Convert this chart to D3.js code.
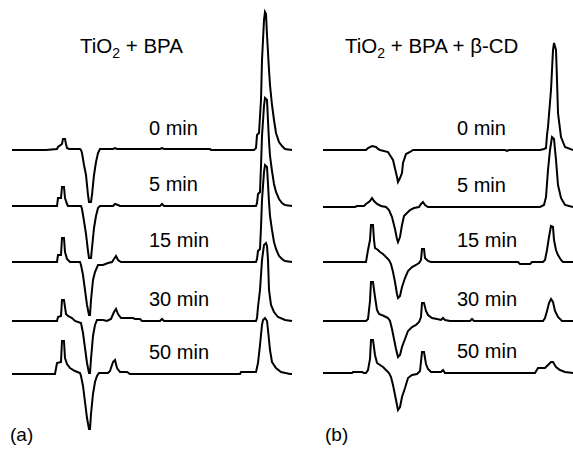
<!DOCTYPE html>
<html>
<head>
<meta charset="utf-8">
<script src="https://cdn.jsdelivr.net/npm/d3@7"></script>
<style>
  html, body { margin: 0; padding: 0; background: #fff; }
  svg { display: block; font-family: "Liberation Sans", Arial, Helvetica, sans-serif; }
</style>
</head>
<body>
<svg id="chart" width="573" height="450"></svg>
<script>
// Irradiation times of the stacked chromatograms (top to bottom)
const times = ["0 min", "5 min", "15 min", "30 min", "50 min"];

// Panel (a): TiO2 + BPA — [retention time, detector response]
const a0 = [[0,0],[3.4,0],[4.5,1],[4.6,3],[5.0,6],[5.1,11],[5.3,11],[5.4,6],[5.5,2],[5.7,1],[6.8,1],[6.9,0],[7.0,-3],[7.2,-15],[7.4,-25],[7.6,-45],[7.7,-52],[7.9,-52],[8.0,-45],[8.2,-25],[8.4,-12],[8.6,-3],[8.8,1],[10.1,1],[10.3,2],[10.5,1],[14.8,1],[15.0,2],[15.2,1],[19.8,1],[19.9,0],[24.2,0],[24.4,2],[24.5,15],[24.7,17],[24.9,50],[25.0,90],[25.2,130],[25.3,138],[25.4,136],[25.5,115],[25.7,80],[25.8,65],[26.0,45],[26.2,30],[26.4,17],[26.7,8],[27.0,4],[27.3,1],[28.0,0]];
const a5 = [[0,0],[4.5,0],[4.6,8],[4.9,8],[5.0,19],[5.2,19],[5.3,8],[5.5,2],[5.6,0],[6.9,0],[7.0,-3],[7.2,-15],[7.4,-28],[7.6,-45],[7.7,-52],[7.9,-52],[8.0,-42],[8.2,-22],[8.4,-10],[8.6,-2],[8.8,0],[10.1,0],[10.3,2],[10.6,1],[10.8,0],[14.8,0],[15.0,2],[15.2,0],[24.4,0],[24.5,3],[24.6,12],[24.8,14],[24.9,40],[25.0,70],[25.2,100],[25.3,108],[25.5,106],[25.6,85],[25.7,65],[25.8,50],[26.0,35],[26.2,22],[26.4,14],[26.7,7],[27.0,3],[27.3,1],[28.0,0]];
const a15 = [[0,0],[4.5,0],[4.6,7],[4.9,7],[5.0,24],[5.2,24],[5.3,10],[5.5,3],[5.8,0],[6.8,0],[6.9,-3],[7.1,-13],[7.3,-28],[7.5,-43],[7.7,-53],[7.8,-53],[7.9,-38],[8.1,-18],[8.3,-10],[8.6,-3],[9.1,-3],[9.6,-1],[10.0,0],[10.2,3],[10.4,6],[10.6,2],[10.9,0],[24.4,0],[24.5,3],[24.6,11],[24.8,13],[24.9,35],[25.0,62],[25.2,90],[25.3,97],[25.5,95],[25.6,78],[25.7,60],[25.8,46],[26.0,32],[26.2,20],[26.4,13],[26.7,6],[27.0,3],[27.3,1],[28.0,0]];
const a30 = [[0,0],[4.5,0],[4.6,4],[4.9,5],[5.0,21],[5.2,21],[5.4,7],[5.6,5],[6.0,3],[6.3,0],[6.9,-2],[7.1,-12],[7.3,-27],[7.5,-42],[7.7,-52],[7.8,-52],[7.9,-38],[8.1,-15],[8.3,-4],[8.5,1],[9.1,1],[9.5,0],[9.9,2],[10.2,9],[10.4,12],[10.6,7],[10.9,3],[12.1,3],[12.3,2],[12.8,2],[13.0,0],[14.8,0],[15.0,2],[15.2,0],[24.4,0],[24.5,3],[24.6,14],[24.8,31],[25.0,61],[25.2,76],[25.4,78],[25.5,75],[25.6,61],[25.7,31],[25.9,16],[26.2,9],[26.6,4],[27.3,1],[28.0,0]];
const a50 = [[0,0],[4.3,0],[4.5,11],[4.9,12],[5.0,33],[5.2,33],[5.3,16],[5.5,10],[5.8,6],[6.3,3],[6.8,1],[6.9,-2],[7.1,-12],[7.3,-28],[7.5,-44],[7.7,-55],[7.8,-55],[7.9,-40],[8.1,-20],[8.3,-8],[8.5,-2],[8.7,1],[9.6,1],[9.8,3],[10.1,12],[10.3,14],[10.5,6],[10.8,2],[11.5,2],[11.8,0],[22.8,0],[22.9,2],[24.4,2],[24.6,11],[24.8,29],[25.0,49],[25.1,54],[25.3,56],[25.5,53],[25.6,44],[25.8,24],[26.0,12],[26.4,6],[26.9,2],[27.8,0],[28.0,0]];

// Panel (b): TiO2 + BPA + β-CD — [retention time, detector response]
const b0 = [[0,0],[4.3,0],[4.5,2],[4.9,4],[5.3,3],[5.5,1],[5.7,0],[6.5,-2],[7.0,-10],[7.4,-27],[7.5,-32],[7.7,-28],[7.9,-23],[8.0,-13],[8.3,-4],[8.7,-2],[9.0,0],[18.2,0],[18.4,-1],[18.6,0],[21.7,0],[22.1,1],[22.3,2],[22.4,15],[22.5,23],[22.8,60],[23.0,100],[23.1,107],[23.3,100],[23.4,70],[23.5,37],[23.8,13],[24.2,3],[25.0,0]];
const b5 = [[0,0],[3.2,0],[3.4,1],[4.1,1],[4.3,3],[4.7,6],[4.9,9],[5.1,6],[5.4,3],[5.8,1],[6.3,0],[6.6,-3],[6.9,-10],[7.2,-22],[7.4,-32],[7.5,-35],[7.7,-30],[7.9,-18],[8.1,-9],[8.4,-6],[8.7,-3],[9.1,-1],[9.6,0],[9.8,3],[10.0,5],[10.2,2],[10.5,0],[21.7,0],[22.1,2],[22.3,10],[22.5,37],[22.7,57],[22.9,70],[23.1,68],[23.3,47],[23.5,22],[23.8,9],[24.2,2],[25.0,0]];
const b15 = [[0,0],[4.3,0],[4.5,12],[4.7,22],[4.8,37],[5.0,37],[5.1,22],[5.2,14],[5.5,12],[5.7,10],[6.0,8],[6.3,5],[6.6,2],[6.8,-2],[7.0,-10],[7.2,-20],[7.4,-32],[7.5,-36],[7.7,-34],[7.9,-25],[8.2,-16],[8.5,-9],[8.9,-5],[9.3,-3],[9.6,-1],[9.8,2],[9.9,13],[10.1,13],[10.2,4],[10.5,1],[10.8,0],[19.5,0],[19.7,-2],[20.7,-2],[20.9,0],[22.0,0],[22.2,2],[22.4,12],[22.6,25],[22.8,36],[23.0,35],[23.1,22],[23.3,12],[23.5,7],[23.8,2],[24.0,0],[25.0,0]];
const b30 = [[0,0],[4.3,0],[4.5,2],[4.7,20],[4.8,39],[5.0,39],[5.2,24],[5.4,11],[5.6,7],[6.1,5],[6.5,3],[6.7,0],[6.9,-8],[7.1,-18],[7.3,-28],[7.5,-36],[7.7,-34],[7.9,-26],[8.2,-18],[8.5,-10],[8.9,-6],[9.3,-4],[9.6,-1],[9.8,4],[9.9,18],[10.1,18],[10.3,10],[10.5,6],[10.9,3],[11.4,2],[11.8,1],[12.0,3],[12.2,1],[12.7,0],[14.7,0],[14.9,2],[15.1,0],[22.0,0],[22.2,3],[22.4,10],[22.6,18],[22.8,22],[23.0,19],[23.2,10],[23.5,4],[23.9,0],[25.0,0]];
const b50 = [[0,0],[2.9,0],[3.0,1],[3.9,1],[4.1,0],[4.3,0],[4.5,3],[4.7,14],[4.8,33],[5.0,33],[5.2,18],[5.4,10],[6.0,6],[6.3,3],[6.6,0],[6.8,-4],[7.0,-12],[7.2,-22],[7.4,-32],[7.5,-37],[7.7,-34],[7.9,-24],[8.2,-15],[8.5,-5],[8.9,-2],[9.4,-1],[9.7,2],[9.9,21],[10.1,21],[10.3,9],[10.5,4],[10.8,1],[11.8,1],[12.0,3],[12.2,0],[21.2,0],[21.5,5],[22.2,5],[22.5,8],[22.8,11],[23.0,11],[23.3,6],[23.7,3],[24.2,1],[25.0,0]];

const svg = d3.select("#chart");

// Detector response → vertical pixel offset from each trace's baseline
const yResp = d3.scaleLinear().domain([0, 100]).range([0, -100]);

const panels = [
  {
    traces: [a0, a5, a15, a30, a50],
    x: d3.scaleLinear().domain([0, 28]).range([12, 292]),
    base: d3.scaleOrdinal().domain(times).range([150, 206, 262, 321, 374]),
    labelX: 149,
    title: { x: 80, parts: ["TiO", "2", " + BPA"] },
    tag: { x: 10, text: "(a)" }
  },
  {
    traces: [b0, b5, b15, b30, b50],
    x: d3.scaleLinear().domain([0, 25]).range([323, 573]),
    base: d3.scaleOrdinal().domain(times).range([150, 207, 262, 321, 373]),
    labelX: 457,
    title: { x: 345, parts: ["TiO", "2", " + BPA + β-CD"] },
    tag: { x: 325, text: "(b)" }
  }
];

panels.forEach(p => {
  const g = svg.append("g");

  p.traces.forEach((trace, i) => {
    const y0 = p.base(times[i]);
    const line = d3.line()
      .x(d => p.x(d[0]))
      .y(d => y0 + yResp(d[1]));

    g.append("path")
      .datum(trace)
      .attr("d", line)
      .attr("fill", "none")
      .attr("stroke", "#000")
      .attr("stroke-width", 2)
      .attr("stroke-linejoin", "miter");

    g.append("text")
      .attr("x", p.labelX)
      .attr("y", y0 - 15)
      .attr("font-size", 20)
      .attr("fill", "#000")
      .text(times[i]);
  });

  const t = g.append("text")
    .attr("x", p.title.x)
    .attr("y", 53)
    .attr("font-size", 20.5)
    .attr("fill", "#000");
  t.append("tspan").text(p.title.parts[0]);
  t.append("tspan").attr("font-size", 14).attr("dy", 5).text(p.title.parts[1]);
  t.append("tspan").attr("dy", -5).text(p.title.parts[2]);

  g.append("text")
    .attr("x", p.tag.x)
    .attr("y", 441)
    .attr("font-size", 19)
    .attr("fill", "#000")
    .text(p.tag.text);
});
</script>
</body>
</html>
